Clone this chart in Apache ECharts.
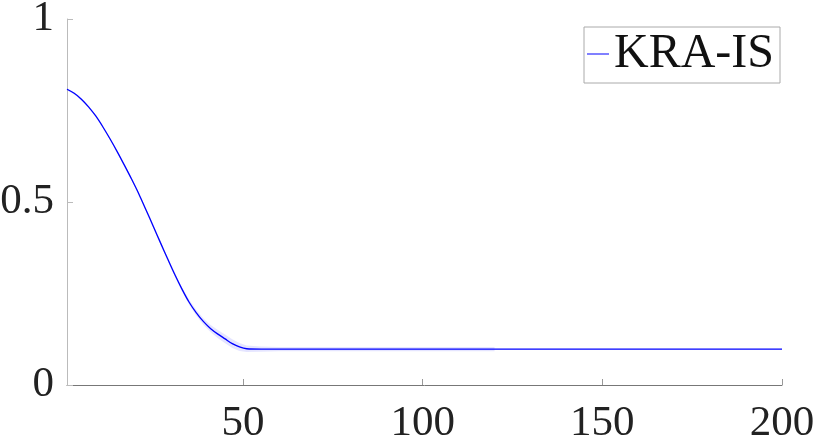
<!DOCTYPE html>
<html>
<head>
<meta charset="utf-8">
<script src="https://cdn.jsdelivr.net/npm/echarts@6/dist/echarts.min.js"></script>
<style>html,body{margin:0;padding:0;background:#fff}#c{width:814px;height:436px}</style>
</head>
<body>
<div id="c"></div>
<script>
const xs = [1,3,5,7,9,11,13,15,17,19,21,23,25,27,29,31,33,35,37,39,41,43,45,47,49,51,55,60,70,80,90,100,110,120,130,140,150,160,170,180,190,200];
const ys = [0.808,0.797,0.781,0.760,0.735,0.705,0.672,0.637,0.600,0.562,0.522,0.478,0.434,0.389,0.345,0.302,0.262,0.226,0.197,0.173,0.154,0.139,0.126,0.113,0.104,0.099,0.098,0.098,0.098,0.098,0.098,0.098,0.098,0.098,0.098,0.098,0.098,0.098,0.098,0.098,0.098,0.098];
const bandHalf = [0.003,0.003,0.003,0.003,0.003,0.003,0.003,0.004,0.004,0.004,0.004,0.004,0.005,0.005,0.005,0.006,0.006,0.007,0.008,0.009,0.010,0.011,0.012,0.012,0.011,0.009,0.007,0.006,0.006,0.006,0.006,0.006,0.006,0.006,null,null,null,null,null,null,null,null];
const xTicks = [50,100,150,200];
const seriesName = 'KRA-IS';

const lineData = xs.map((x,i)=>[x,ys[i]]);
const bandIdx = xs.map((x,i)=>i).filter(i=>bandHalf[i]!=null);
const upper = bandIdx.map(i=>[xs[i],ys[i]+bandHalf[i]]);
const lower = bandIdx.map(i=>[xs[i],ys[i]-bandHalf[i]]);
const bandPoly = upper.concat(lower.slice().reverse());

const font = 'Liberation Serif';
const chart = echarts.init(document.getElementById('c'));
chart.setOption({
  animation:false,
  backgroundColor:'#fff',
  grid:{left:67,right:32,top:19,bottom:51,containLabel:false,outerBoundsMode:'none'},
  legend:{
    data:[{name:seriesName, icon:'rect'}],
    left:584, top:27,
    itemWidth:22, itemHeight:1,
    padding:[3,6,5,3],
    borderColor:'#aaaaaa', borderWidth:1,
    textStyle:{fontFamily:font,fontSize:48,color:'#111',lineHeight:46},
    itemStyle:{color:'#0000ff'}
  },
  xAxis:{
    type:'value', min:1, max:200,
    axisLine:{show:true,onZero:false,lineStyle:{color:'#777',width:1}},
    axisTick:{show:true,inside:true,length:6,customValues:xTicks,lineStyle:{color:'#999'}},
    axisLabel:{customValues:xTicks,fontFamily:font,fontSize:43,color:'#222',margin:17},
    splitLine:{show:false}
  },
  yAxis:{
    type:'value', min:0, max:1, interval:0.5,
    axisLine:{show:true,lineStyle:{color:'#bbb',width:1}},
    axisTick:{show:true,inside:true,length:6,lineStyle:{color:'#bbb'}},
    axisLabel:{fontFamily:font,fontSize:43,color:'#222',margin:13,formatter:v=>String(v)},
    splitLine:{show:false}
  },
  series:[
    {name:'band',type:'custom',silent:true,data:[0],z:1,
     renderItem:(params,api)=>({type:'polygon',shape:{points:bandPoly.map(p=>api.coord(p))},style:{fill:'rgba(0,0,255,0.1)'}})},
    {name:seriesName,type:'line',data:lineData,symbol:'none',smooth:0.3,z:2,lineStyle:{color:'#0000ff',width:1.3},itemStyle:{color:'#0000ff'}}
  ]
});
</script>
</body>
</html>
